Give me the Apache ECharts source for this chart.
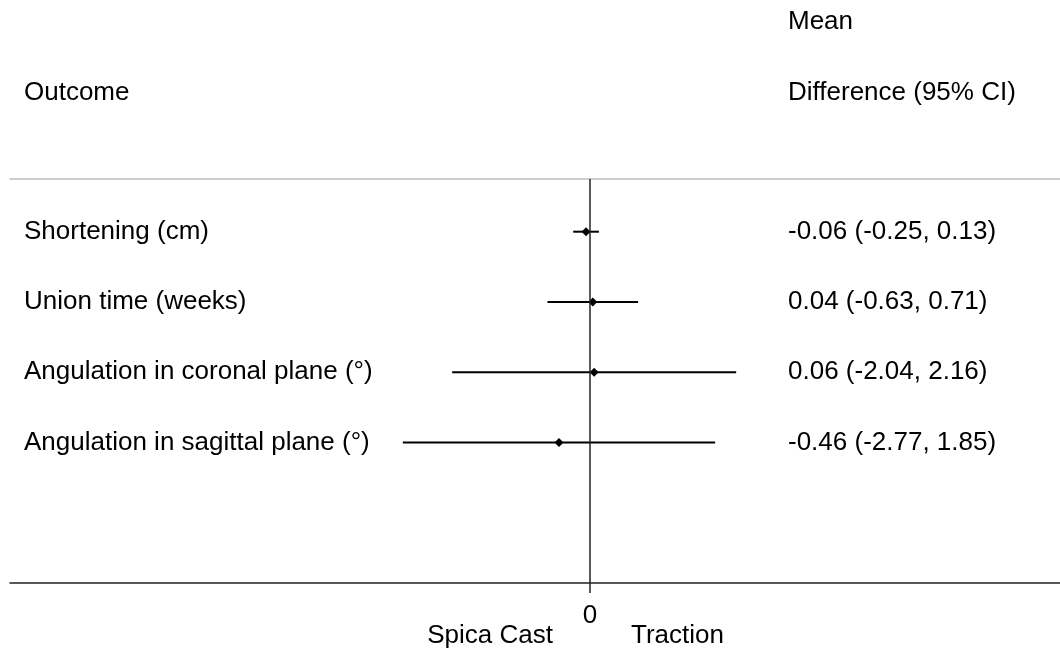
<!DOCTYPE html>
<html>
<head>
<meta charset="utf-8">
<script src="https://cdn.jsdelivr.net/npm/echarts@6/dist/echarts.min.js"></script>
<style>
html,body{margin:0;padding:0;background:#fff;}
#chart{width:1060px;height:651px;}
</style>
</head>
<body>
<div id="chart"></div>
<script>
// ---- data ----
const outcomes = ['Shortening (cm)', 'Union time (weeks)', 'Angulation in coronal plane (\u00B0)', 'Angulation in sagittal plane (\u00B0)'];
const estimates = [-0.06, 0.04, 0.06, -0.46];
const lower = [-0.25, -0.63, -2.04, -2.77];
const upper = [0.13, 0.71, 2.16, 1.85];
const rows = [1, 2, 3, 4];
const xTickValues = [0];
const headerLeft = 'Outcome';
const headerRight = ['Mean', 'Difference (95% CI)'];
const sideLabels = ['Spica Cast', 'Traction'];

// ---- layout ----
const FONT = '"Liberation Sans", Arial, Helvetica, sans-serif';
const FS = 26;
const xMin = -8.58, xMax = 6.95;
const yMin = 0.25, yMax = 6;
const gridTop = 179, gridBottom = 68, gridLeft = 10, gridRight = 0;
const rowPx = (651 - gridTop - gridBottom) / (yMax - yMin);
const rowY = r => gridTop + (r - yMin) * rowPx;
const rightColX = 788;

const fmt = v => v.toFixed(2);
const ciData = rows.map((r, i) => [lower[i], upper[i], r]);
const pointData = rows.map((r, i) => [estimates[i], r]);
const leftLabelData = rows.map((r, i) => ({ value: [xMin, r], name: outcomes[i] }));
const rightLabelData = rows.map((r, i) => ({
  value: [xMin, r],
  name: fmt(estimates[i]) + ' (' + fmt(lower[i]) + ', ' + fmt(upper[i]) + ')'
}));

const chart = echarts.init(document.getElementById('chart'), null, { renderer: 'canvas' });

function textLabelSeries(name, data, startX) {
  return {
    type: 'custom',
    name: name,
    data: data.map(d => d.value.concat([d.name])),
    encode: { x: 0, y: 1 },
    silent: true,
    renderItem: function (params, api) {
      const p = api.coord([api.value(0), api.value(1)]);
      return {
        type: 'text',
        x: startX, y: p[1],
        style: {
          text: data[params.dataIndex].name,
          font: FS + 'px ' + FONT, fill: '#000',
          textAlign: 'left', textVerticalAlign: 'middle'
        }
      };
    }
  };
}

chart.setOption({
  animation: false,
  backgroundColor: '#fff',
  grid: { left: gridLeft, right: gridRight, top: gridTop, bottom: gridBottom, containLabel: false },
  xAxis: [{
    type: 'value', min: xMin, max: xMax, position: 'bottom',
    splitLine: { show: false },
    axisLine: { show: true, lineStyle: { color: '#222', width: 1.5 } },
    axisTick: { show: true, customValues: xTickValues, length: 10, lineStyle: { color: '#222', width: 1.5 } },
    axisLabel: { show: true, customValues: xTickValues, margin: 20, fontFamily: FONT, fontSize: FS, color: '#000' }
  }, {
    type: 'value', min: xMin, max: xMax, position: 'top',
    splitLine: { show: false },
    axisLine: { show: true, lineStyle: { color: '#bdbdbd', width: 1.5 } },
    axisTick: { show: false }, axisLabel: { show: false }
  }],
  yAxis: {
    type: 'value', inverse: true, min: yMin, max: yMax, show: false
  },
  graphic: [
    { type: 'text', left: 24, top: rowY(-1) - FS * 0.6 + 4, style: { text: headerLeft, font: FS + 'px ' + FONT, fill: '#000' } },
    { type: 'text', left: rightColX, top: rowY(-2) - FS * 0.6 + 4, style: { text: headerRight[0], font: FS + 'px ' + FONT, fill: '#000' } },
    { type: 'text', left: rightColX, top: rowY(-1) - FS * 0.6 + 4, style: { text: headerRight[1], font: FS + 'px ' + FONT, fill: '#000' } },
    { type: 'text', right: 1060 - 553, top: 623, style: { text: sideLabels[0], font: FS + 'px ' + FONT, fill: '#000', textAlign: 'right' } },
    { type: 'text', left: 631, top: 623, style: { text: sideLabels[1], font: FS + 'px ' + FONT, fill: '#000' } }
  ],
  series: [
    {
      type: 'custom',
      name: 'ci',
      data: ciData,
      encode: { x: [0, 1], y: 2 },
      renderItem: function (params, api) {
        const a = api.coord([api.value(0), api.value(2)]);
        const b = api.coord([api.value(1), api.value(2)]);
        return {
          type: 'line',
          shape: { x1: a[0], y1: a[1], x2: b[0], y2: b[1] },
          style: { stroke: '#000', lineWidth: 2 }
        };
      },
      z: 3
    },
    {
      type: 'scatter',
      name: 'estimate',
      data: pointData,
      symbol: 'diamond',
      symbolSize: 9,
      itemStyle: { color: '#000', opacity: 1 },
      z: 4,
      markLine: {
        silent: true, symbol: 'none',
        label: { show: false },
        lineStyle: { color: '#222', width: 1.5, type: 'solid', opacity: 1 },
        data: [{ xAxis: 0 }]
      }
    },
    textLabelSeries('outcomeLabels', leftLabelData, 24),
    textLabelSeries('effectLabels', rightLabelData, rightColX)
  ]
});
</script>
</body>
</html>
